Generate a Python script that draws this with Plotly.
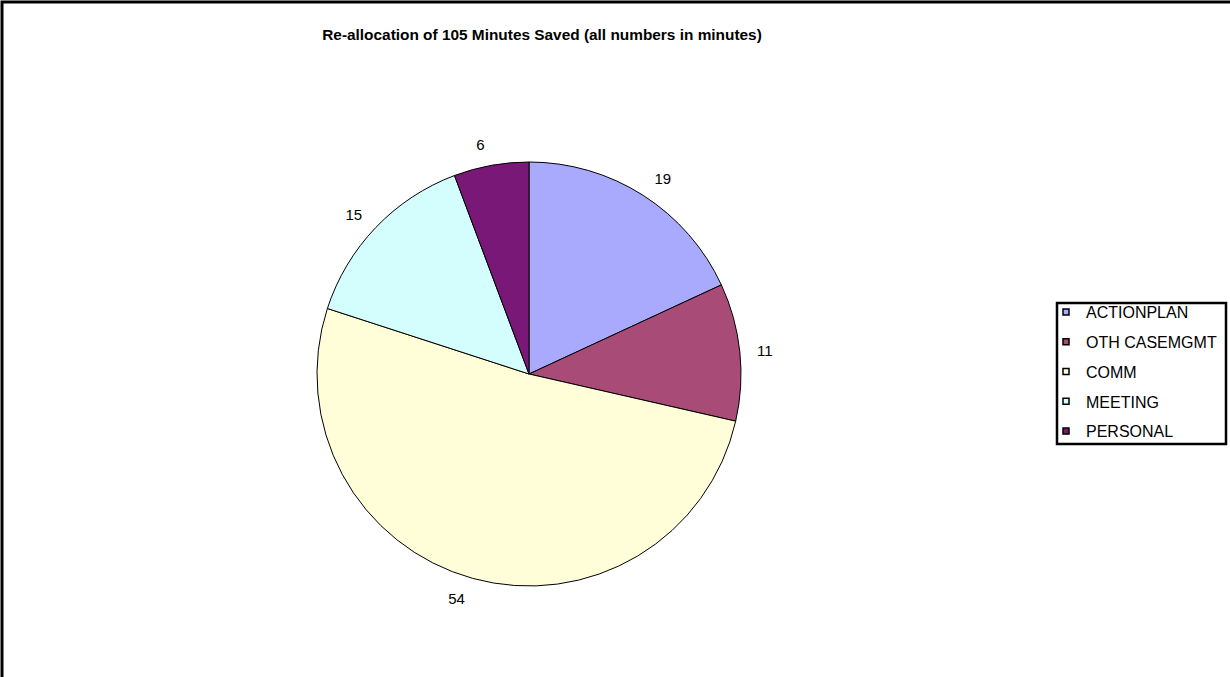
import plotly.graph_objects as go

# Minutes re-allocated per activity
categories = ["ACTIONPLAN", "OTH CASEMGMT", "COMM", "MEETING", "PERSONAL"]
minutes = [19, 11, 54, 15, 6]
colors = ["#A9AAFE", "#A84B77", "#FFFED8", "#D4FEFE", "#7A1877"]

W, H = 1230, 677
FONT = "Liberation Sans, Arial, sans-serif"

# Pie geometry in pixels
CX, CY, R = 529, 374, 212
R_LABEL = 225  # radius of the ring that carries the value labels


def domain_for(radius):
    return dict(x=[(CX - radius) / W, (CX + radius) / W],
                y=[(H - CY - radius) / H, (H - CY + radius) / H])


fig = go.Figure()

# Invisible wider ring: only carries the value labels, a bit off the pie edge
fig.add_trace(go.Pie(
    labels=categories,
    values=minutes,
    sort=False,
    direction="clockwise",
    rotation=0,
    marker=dict(colors=["rgba(0,0,0,0)"] * len(categories),
                line=dict(width=0)),
    textinfo="value",
    textposition="outside",
    textfont=dict(family=FONT, size=15, color="black"),
    showlegend=False,
    hoverinfo="skip",
    domain=domain_for(R_LABEL),
))

# The pie itself
fig.add_trace(go.Pie(
    labels=categories,
    values=minutes,
    sort=False,
    direction="clockwise",
    rotation=0,
    marker=dict(colors=colors, line=dict(color="black", width=1)),
    textinfo="none",
    showlegend=False,
    hoverinfo="label+value",
    domain=domain_for(R),
))

# Legend entries with small square swatches
for name, col in zip(categories, colors):
    fig.add_trace(go.Scatter(
        x=[None], y=[None], mode="markers", name=name,
        legendgroup=name,
        marker=dict(symbol="square", size=6, color=col,
                    line=dict(color="black", width=1.5)),
    ))

fig.update_layout(
    width=W, height=H,
    margin=dict(l=0, r=0, t=0, b=0),
    paper_bgcolor="white",
    plot_bgcolor="white",
    title=dict(
        text="<b>Re-allocation of 105 Minutes Saved (all numbers in minutes)</b>",
        x=542 / W, xanchor="center",
        y=1 - 35 / H, yanchor="middle",
        font=dict(family=FONT, size=15.4, color="black"),
    ),
    xaxis=dict(visible=False),
    yaxis=dict(visible=False),
    legend=dict(
        x=1046 / W, xanchor="left",
        y=1 - 295 / H, yanchor="top",
        borderwidth=0,
        bgcolor="rgba(0,0,0,0)",
        font=dict(family=FONT, size=16, color="black"),
        tracegroupgap=6,
        itemsizing="trace",
    ),
    shapes=[
        # legend frame
        dict(type="rect", xref="paper", yref="paper",
             x0=1057 / W, x1=1226 / W, y0=1 - 444 / H, y1=1 - 303 / H,
             line=dict(color="black", width=2.5),
             fillcolor="rgba(0,0,0,0)", layer="below"),
        # chart frame
        dict(type="rect", xref="paper", yref="paper",
             x0=2 / W, x1=1.02, y0=-0.02, y1=1 - 2 / H,
             line=dict(color="black", width=3),
             fillcolor="rgba(0,0,0,0)", layer="above"),
    ],
)

fig.write_html("out.html")
